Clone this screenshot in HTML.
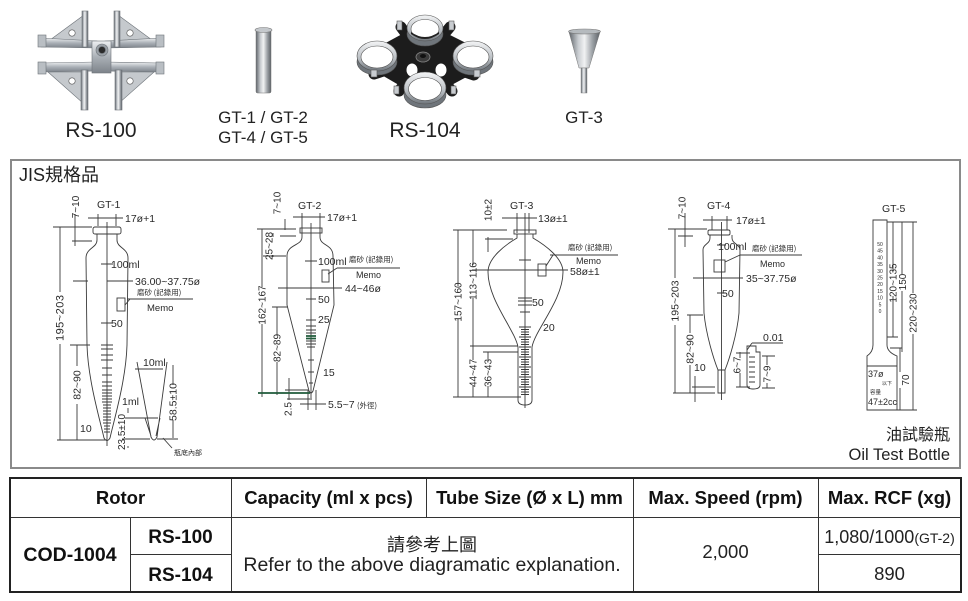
<!DOCTYPE html>
<html><head><meta charset="utf-8">
<style>
html,body{margin:0;padding:0;background:#fff;}
svg{display:block;}
text{font-family:"Liberation Sans","Noto Sans CJK TC",sans-serif;}
.cj{font-family:"Noto Sans CJK TC","Liberation Sans",sans-serif;}
</style></head><body>
<svg width="968" height="601" viewBox="0 0 968 601" xmlns="http://www.w3.org/2000/svg">
<defs>
<linearGradient id="sil" x1="0" y1="0" x2="0" y2="1">
<stop offset="0" stop-color="#eef0f2"/><stop offset="0.5" stop-color="#aab0b6"/><stop offset="1" stop-color="#7d838a"/>
</linearGradient>
<linearGradient id="silh" x1="0" y1="0" x2="1" y2="0">
<stop offset="0" stop-color="#5f646a"/><stop offset="0.3" stop-color="#c9cdd1"/><stop offset="0.5" stop-color="#f1f2f3"/><stop offset="0.75" stop-color="#9da2a7"/><stop offset="1" stop-color="#5c6166"/>
</linearGradient>
<linearGradient id="ring" x1="0" y1="0" x2="0" y2="1">
<stop offset="0" stop-color="#f4f5f6"/><stop offset="0.6" stop-color="#b8bdc2"/><stop offset="1" stop-color="#6f757b"/>
</linearGradient>
</defs>
<rect width="968" height="601" fill="#fff"/>

<!-- RS-100 spider -->
<g stroke="#6e747a" stroke-width="0.6">
<polygon points="84,15 84,41 50,40" fill="#c5c9cd"/>
<polygon points="118,15 118,41 152,40" fill="#c5c9cd"/>
<polygon points="48,72 84,72 84,104" fill="#c5c9cd"/>
<polygon points="154,72 118,72 118,104" fill="#c5c9cd"/>
<polygon points="41,38 97,41 97,48 41,47" fill="url(#sil)"/>
<polygon points="161,38 105,41 105,48 161,47" fill="url(#sil)"/>
<rect x="38" y="35" width="8" height="12" fill="#b9bec3"/>
<rect x="156" y="35" width="8" height="12" fill="#b9bec3"/>
<polygon points="41,63 97,62 97,71 41,72" fill="url(#sil)"/>
<polygon points="161,63 105,62 105,71 161,72" fill="url(#sil)"/>
<rect x="38" y="62" width="8" height="12" fill="#b9bec3"/>
<rect x="156" y="62" width="8" height="12" fill="#b9bec3"/>
<rect x="82" y="11" width="6" height="36" fill="url(#silh)"/>
<rect x="114" y="11" width="6" height="36" fill="url(#silh)"/>
<rect x="81" y="70" width="7" height="40" fill="url(#silh)"/>
<rect x="115" y="70" width="7" height="40" fill="url(#silh)"/>
<rect x="92" y="41" width="19" height="32" fill="url(#sil)"/>
<circle cx="72" cy="33" r="3.2" fill="#fff" stroke="#555"/>
<circle cx="130" cy="33" r="3.2" fill="#fff" stroke="#555"/>
<circle cx="72" cy="81" r="3.2" fill="#fff" stroke="#555"/>
<circle cx="130" cy="81" r="3.2" fill="#fff" stroke="#555"/>
<circle cx="102" cy="50" r="6" fill="#9aa0a6"/>
<circle cx="102" cy="50" r="3.5" fill="#2b2b2b"/>
</g>
<text x="101" y="137" font-size="21" text-anchor="middle" fill="#222">RS-100</text>

<!-- tube -->
<rect x="256" y="30" width="15" height="63" rx="1.5" fill="url(#silh)" stroke="#777" stroke-width="0.5"/>
<ellipse cx="263.5" cy="30" rx="8.5" ry="2.5" fill="#c4c8cc" stroke="#777" stroke-width="0.6"/>
<text x="263" y="123" font-size="17" text-anchor="middle" fill="#222">GT-1 / GT-2</text>
<text x="263" y="143" font-size="17" text-anchor="middle" fill="#222">GT-4 / GT-5</text>

<!-- RS-104 -->
<g>
<g stroke="#1c1c1c" stroke-width="11" stroke-linecap="round">
<path d="M424,58 L401,27 M424,58 L450,27 M424,58 L374,74 M424,58 L474,75 M424,58 L399,91 M424,58 L452,91"/>
</g>
<polygon points="380,46 404,33 446,33 472,46 472,74 446,88 404,88 380,74" fill="#1c1c1c"/>
<ellipse cx="412" cy="70" rx="5.5" ry="6.5" fill="#fff"/>
<ellipse cx="441" cy="70" rx="5.5" ry="6.5" fill="#fff"/>
<g stroke="#555" stroke-width="0.6">
<ellipse cx="425" cy="34" rx="18" ry="12" fill="#6f757b"/>
<ellipse cx="425" cy="28" rx="18" ry="13" fill="url(#ring)"/>
<ellipse cx="425" cy="29" rx="14" ry="9.5" fill="#fff"/>
<path d="M411,32 Q425,42 439,32 L439,34 Q425,44 411,34 Z" fill="#222" stroke="none"/>
<ellipse cx="377" cy="62" rx="20" ry="13" fill="#6f757b"/>
<ellipse cx="377" cy="56" rx="20" ry="15" fill="url(#ring)"/>
<ellipse cx="377" cy="57" rx="16" ry="11" fill="#fff"/>
<ellipse cx="473" cy="62" rx="20" ry="13" fill="#6f757b"/>
<ellipse cx="473" cy="56" rx="20" ry="15" fill="url(#ring)"/>
<ellipse cx="473" cy="57" rx="16" ry="11" fill="#fff"/>
<ellipse cx="425" cy="95" rx="21" ry="13" fill="#6f757b"/>
<ellipse cx="425" cy="88" rx="21" ry="16" fill="url(#ring)"/>
<ellipse cx="425" cy="89" rx="16.5" ry="11.5" fill="#fff"/>
<rect x="397" y="21" width="5" height="9" fill="#c8ccd0"/>
<rect x="449" y="21" width="5" height="9" fill="#c8ccd0"/>
<rect x="371" y="70" width="6" height="7" fill="#c8ccd0"/>
<rect x="474" y="70" width="6" height="7" fill="#c8ccd0"/>
<rect x="394" y="86" width="5" height="8" fill="#c8ccd0"/>
<rect x="451" y="86" width="5" height="8" fill="#c8ccd0"/>
</g>
<ellipse cx="423" cy="57" rx="7" ry="5" fill="#3a3a3a" stroke="#888" stroke-width="0.8"/>
<ellipse cx="423" cy="56" rx="3" ry="2" fill="#111"/>
</g>
<text x="425" y="137" font-size="21" text-anchor="middle" fill="#222">RS-104</text>

<!-- GT-3 photo -->
<polygon points="569,32 600,32 589,68 579,68" fill="url(#silh)" stroke="#777" stroke-width="0.5"/>
<ellipse cx="584.5" cy="31.5" rx="16" ry="2.5" fill="#b5babe" stroke="#777" stroke-width="0.6"/>
<rect x="581" y="68" width="6" height="25" fill="url(#silh)" stroke="#777" stroke-width="0.4"/>
<text x="584" y="123" font-size="17" text-anchor="middle" fill="#222">GT-3</text>

<!-- JIS box -->
<rect x="11" y="160" width="949" height="308" fill="none" stroke="#8a8a8a" stroke-width="2"/>
<text x="19" y="181" font-size="18" fill="#222">JIS規格品</text>

<g fill="none" stroke="#3a3a3a" stroke-width="0.9">
<!-- GT-1 -->
<rect x="93" y="227" width="28" height="7" rx="2"/>
<path d="M97,234 L97,240 C97,248 86,248 86,258 L87,345 C88,380 100,420 104,438 Q107,443 110,438 C114,420 126,380 127,345 L128,258 C128,248 117,248 117,240 L117,234"/>
<path d="M107,222 V446"/>
<path d="M101,264H113 M101,323H113 M101,345H113 M101,349H113 M101,355H113 M101,360H113 M102,368H112 M102,375H112 M102,382H112 M102,386H112 M102,390H112 M102,393H112 M102,396H112 M102,399H112 M102,402H112 M103,405H111 M103,408H111 M103,411H111 M103,414H111 M103,417H111 M103,420H111 M103,423H111 M104,426H110 M104,429H110 M104,432H110"/>
<path d="M88,218H123 M98,214V226 M116,214V226"/>
<path d="M75,214V246 M53,227H92 M72,241H92"/>
<path d="M60,227V292 M60,344V440 M57,440H107"/>
<path d="M70,345H90 M77,345V366 M77,404V440"/>
<path d="M73,281H88 M107,281H133"/>
<path d="M127,299H193 M125,305L130,299"/>
<rect x="117" y="298" width="8" height="13"/>
<path d="M135,369H163 M137,362L151,437 Q154,443 157,437 L167,362 M145,418L151,436 M160,418L156,436"/>
<path d="M173,365V385 M173,420V438 M157,439H178"/>
<path d="M125,418H158 M128,408V413 M128,446V448 M122,439H150"/>
<path d="M163,438L172,448"/>

<!-- GT-2 -->
<rect x="300" y="228" width="22" height="5"/>
<path d="M302,233 L302,237 C302,246 287,244 287,256 L287,305 L309,391 Q311,395 313,391 L334,305 L333,256 C333,244 320,246 320,237 L320,233"/>
<path d="M311,223V398"/>
<path d="M305,261H317 M306,299H316 M306,320H316 M306,326H316 M306,330H316 M306,333H316 M306,341H316 M306,344H316 M307,347H315 M308,360H314 M308,372H314 M309,383H313"/>
<path d="M293,217H325 M302,213V233 M320,213V233"/>
<path d="M285,219V230 M257,229H296 M280,236H296 M263,256H286 M273,233V237 M273,255V257"/>
<path d="M262,229V287 M262,324V397"/>
<path d="M272,307H288 M277,307V335 M277,362V395"/>
<path d="M285,390H308 M289,378V400 M287,399H312"/>
<path d="M300,404H326 M308,390V410 M316,390V410"/>
<path d="M337,268H400 M328,274L337,268"/>
<rect x="322" y="270" width="7" height="12"/>
<path d="M278,288H342"/>

<!-- GT-3 -->
<rect x="514" y="230" width="22" height="4"/>
<path d="M517,234 L517,238 C505,245 488,258 488,272 C488,300 515,330 518,347 L518,400 Q518,405 525,405 Q532,405 532,400 L532,347 C535,330 563,300 563,272 C563,258 545,245 533,238 L533,234"/>
<path d="M525,213V408"/>
<path d="M519,260H531 M518,298H532 M518,301H532 M518,305H532 M520,312H530 M519,327H531 M521,329.5H529 M521,332H529 M521,334.5H529 M519,337H531 M521,339.5H529 M521,342H529 M521,344.5H529 M519,347H531 M521,349.5H529 M521,352H529 M521,354.5H529 M519,357H531 M521,359.5H529 M521,362H529 M521,364.5H529 M519,367H531 M521,369.5H529 M521,372H529 M521,374.5H529 M519,377H531 M521,379.5H529 M521,382H529 M521,384.5H529 M519,387H531 M521,389.5H529 M521,392H529 M521,394.5H529"/>
<path d="M502,218H537 M517,213V233 M529,213V233"/>
<path d="M488,237V252 M485,239H513"/>
<path d="M458,230V286 M458,319V397 M453,230H507 M453,397H521"/>
<path d="M473,230V265 M473,298V360 M473,386V397 M470,346H518"/>
<path d="M488,352V360 M488,386V397 M483,352H518"/>
<path d="M472,270H568"/>
<rect x="538" y="264" width="8" height="12"/>
<path d="M546,266L553,255 M550,255H618"/>

<!-- GT-4 -->
<rect x="708" y="230" width="22" height="5" rx="1.5"/>
<path d="M710,235 L710,238 C710,244 703,244 703,250 L704,313 C706,335 714,360 718,370 L718,393 L725,393 L725,370 C729,360 737,335 739,313 L740,250 C740,244 732,244 732,238 L732,235"/>
<path d="M721.5,222V400"/>
<path d="M717,245H726 M717,293H726 M718,370H725"/>
<path d="M703,220H732 M712,216V230 M727,216V230"/>
<path d="M685,213V247 M678,236H693 M668,229H707"/>
<path d="M675,229V278 M675,325V393 M673,393H715"/>
<path d="M687,315H703 M690,315V333 M690,365V393"/>
<path d="M695,376V402 M692,387H715"/>
<path d="M693,278H743"/>
<path d="M740,255H802 M725,262L740,255"/>
<rect x="714" y="260" width="11" height="12"/>
<path d="M752,343H783 M752,343L747,350"/>
<path d="M747,346 V385 Q747,389 753,389 Q760,389 760,385 V352 L756,352 V346 Z"/>
<path d="M749,357H755 M749,362H755 M749,367H755 M749,372H755 M749,377H755 M749,382H755"/>
<path d="M740,352V358 M740,373V387 M736,353H750 M736,387H750"/>
<path d="M767,356V365 M767,383V388 M762,356H775 M762,388H775"/>

<!-- GT-5 -->
<path d="M873,220 L873,345 Q873,352 867,356 L867,410 L897,410 L897,356 Q887,352 887,345 L887,220 Z"/>
<path d="M867,366H897"/>
<path d="M887,222H917 M893,222V271 M893,296V337 M887,337H898"/>
<path d="M902,222V274 M902,291V352 M890,348H902"/>
<path d="M913,222V293 M913,334V410 M897,410H917"/>
<path d="M900,348V372 M900,388V410"/>
</g>
<g stroke="#1f5a3a" stroke-width="1.8"><path d="M306,336H316 M306,338.5H316 M258,393H310"/></g>

<g fill="#2a2a2a" font-size="10.5">
<!-- GT-1 text -->
<text x="97" y="208">GT-1</text>
<text x="125" y="222">17ø+1</text>
<text x="111" y="268">100ml</text>
<text x="135" y="285">36.00~37.75ø</text>
<text class="cj" x="137" y="295" font-size="7.5">磨砂 (記錄用)</text>
<text x="147" y="311" font-size="9.5">Memo</text>
<text x="111" y="327">50</text>
<text x="80" y="432">10</text>
<text x="143" y="366">10ml</text>
<text x="122" y="405">1ml</text>
<text class="cj" x="174" y="455" font-size="7">瓶底內部</text>
<text transform="translate(79,207) rotate(-90)" text-anchor="middle" font-size="10">7~10</text>
<text transform="translate(63.5,318) rotate(-90)" text-anchor="middle" font-size="11" textLength="46">195~203</text>
<text transform="translate(80.5,385) rotate(-90)" text-anchor="middle" font-size="10.5">82~90</text>
<text transform="translate(176.5,402) rotate(-90)" text-anchor="middle" font-size="10.5">58.5±10</text>
<text transform="translate(125,432) rotate(-90)" text-anchor="middle" font-size="10">23.5±10</text>

<!-- GT-2 text -->
<text x="298" y="209">GT-2</text>
<text x="327" y="221">17ø+1</text>
<text x="318" y="265">100ml</text>
<text class="cj" x="349" y="262" font-size="7.5">磨砂 (記錄用)</text>
<text x="356" y="278" font-size="9">Memo</text>
<text x="345" y="292">44~46ø</text>
<text x="318" y="303">50</text>
<text x="318" y="323">25</text>
<text x="323" y="376">15</text>
<text x="328" y="408">5.5~7</text>
<text class="cj" x="357" y="408" font-size="7.5">(外徑)</text>
<text transform="translate(280.5,203) rotate(-90)" text-anchor="middle" font-size="10">7~10</text>
<text transform="translate(272.5,246) rotate(-90)" text-anchor="middle" font-size="10">25~28</text>
<text transform="translate(265.5,305) rotate(-90)" text-anchor="middle" font-size="10">162~167</text>
<text transform="translate(280.5,348) rotate(-90)" text-anchor="middle" font-size="10">82~89</text>
<text transform="translate(291.5,409) rotate(-90)" text-anchor="middle" font-size="10">2.5</text>

<!-- GT-3 text -->
<text x="510" y="209">GT-3</text>
<text x="538" y="222">13ø±1</text>
<text class="cj" x="568" y="250" font-size="7.5">磨砂 (記錄用)</text>
<text x="576" y="264" font-size="9">Memo</text>
<text x="570" y="275">58ø±1</text>
<text x="532" y="306">50</text>
<text x="543" y="331">20</text>
<text transform="translate(491.5,210) rotate(-90)" text-anchor="middle" font-size="10">10±2</text>
<text transform="translate(461.5,302) rotate(-90)" text-anchor="middle" font-size="10">157~160</text>
<text transform="translate(476.5,281) rotate(-90)" text-anchor="middle" font-size="10">113~116</text>
<text transform="translate(476.5,373) rotate(-90)" text-anchor="middle" font-size="10">44~47</text>
<text transform="translate(491.5,373) rotate(-90)" text-anchor="middle" font-size="10">36~43</text>

<!-- GT-4 text -->
<text x="707" y="209">GT-4</text>
<text x="736" y="224">17ø±1</text>
<text x="718" y="250">100ml</text>
<text class="cj" x="752" y="251" font-size="7.5">磨砂 (記錄用)</text>
<text x="760" y="267" font-size="9">Memo</text>
<text x="746" y="282">35~37.75ø</text>
<text x="722" y="297">50</text>
<text x="694" y="371">10</text>
<text x="763" y="341">0.01</text>
<text transform="translate(685.5,208) rotate(-90)" text-anchor="middle" font-size="10">7~10</text>
<text transform="translate(678.5,301) rotate(-90)" text-anchor="middle" font-size="10.5">195~203</text>
<text transform="translate(693.5,349) rotate(-90)" text-anchor="middle" font-size="10.5">82~90</text>
<text transform="translate(740.5,365) rotate(-90)" text-anchor="middle" font-size="10">6~7</text>
<text transform="translate(770.5,374) rotate(-90)" text-anchor="middle" font-size="10">7~9</text>

<!-- GT-5 text -->
<text x="882" y="212">GT-5</text>
<g font-size="5" text-anchor="middle">
<text x="880" y="246">50</text><text x="880" y="252.7">45</text><text x="880" y="259.4">40</text><text x="880" y="266.1">35</text><text x="880" y="272.8">30</text><text x="880" y="279.5">25</text><text x="880" y="286.2">20</text><text x="880" y="292.9">15</text><text x="880" y="299.6">10</text><text x="880" y="306.3">5</text><text x="880" y="313">0</text>
</g>
<text x="868" y="377" font-size="9">37ø</text>
<text class="cj" x="882" y="385" font-size="5">以下</text>
<text class="cj" x="870" y="394" font-size="5.5">容量</text>
<text x="868" y="405" font-size="9">47±2cc</text>
<text transform="translate(896.5,283) rotate(-90)" text-anchor="middle" font-size="10">120~135</text>
<text transform="translate(906,282) rotate(-90)" text-anchor="middle" font-size="10">150</text>
<text transform="translate(916.5,313) rotate(-90)" text-anchor="middle" font-size="10">220~230</text>
<text transform="translate(909,380) rotate(-90)" text-anchor="middle" font-size="10">70</text>
</g>

<text x="950" y="440" font-size="16" text-anchor="end" fill="#222" class="cj">油試驗瓶</text>
<text x="950" y="460" font-size="16.5" text-anchor="end" fill="#222">Oil Test Bottle</text>

<!-- Table -->
<g fill="none" stroke="#333" stroke-width="1">
<path d="M10,517.5H961 M130,554.5H231 M818,554.5H961"/>
<path d="M130.5,517V592 M231.5,478V592 M426.5,478V517 M633.5,478V592 M818.5,478V592"/>
</g>
<rect x="10" y="478" width="951" height="114" fill="none" stroke="#222" stroke-width="2"/>
<g fill="#111" font-size="18.5" font-weight="bold" text-anchor="middle">
<text x="120.5" y="504">Rotor</text>
<text x="328.5" y="504">Capacity (ml x pcs)</text>
<text x="529.5" y="504">Tube Size (Ø x L) mm</text>
<text x="725.5" y="504">Max. Speed (rpm)</text>
<text x="889.5" y="504">Max. RCF (xg)</text>
<text x="70" y="561" font-size="19.5">COD-1004</text>
<text x="180.5" y="543" font-size="19">RS-100</text>
<text x="180.5" y="581" font-size="19">RS-104</text>
</g>
<g fill="#222" text-anchor="middle">
<text x="432" y="551" font-size="18" class="cj">請參考上圖</text>
<text x="432" y="571" font-size="19.5">Refer to the above diagramatic explanation.</text>
<text x="725.5" y="558" font-size="18.5">2,000</text>
<text x="889.5" y="543" font-size="18">1,080/1000<tspan font-size="14">(GT-2)</tspan></text>
<text x="889.5" y="580" font-size="18.5">890</text>
</g>
</svg>
</body></html>
